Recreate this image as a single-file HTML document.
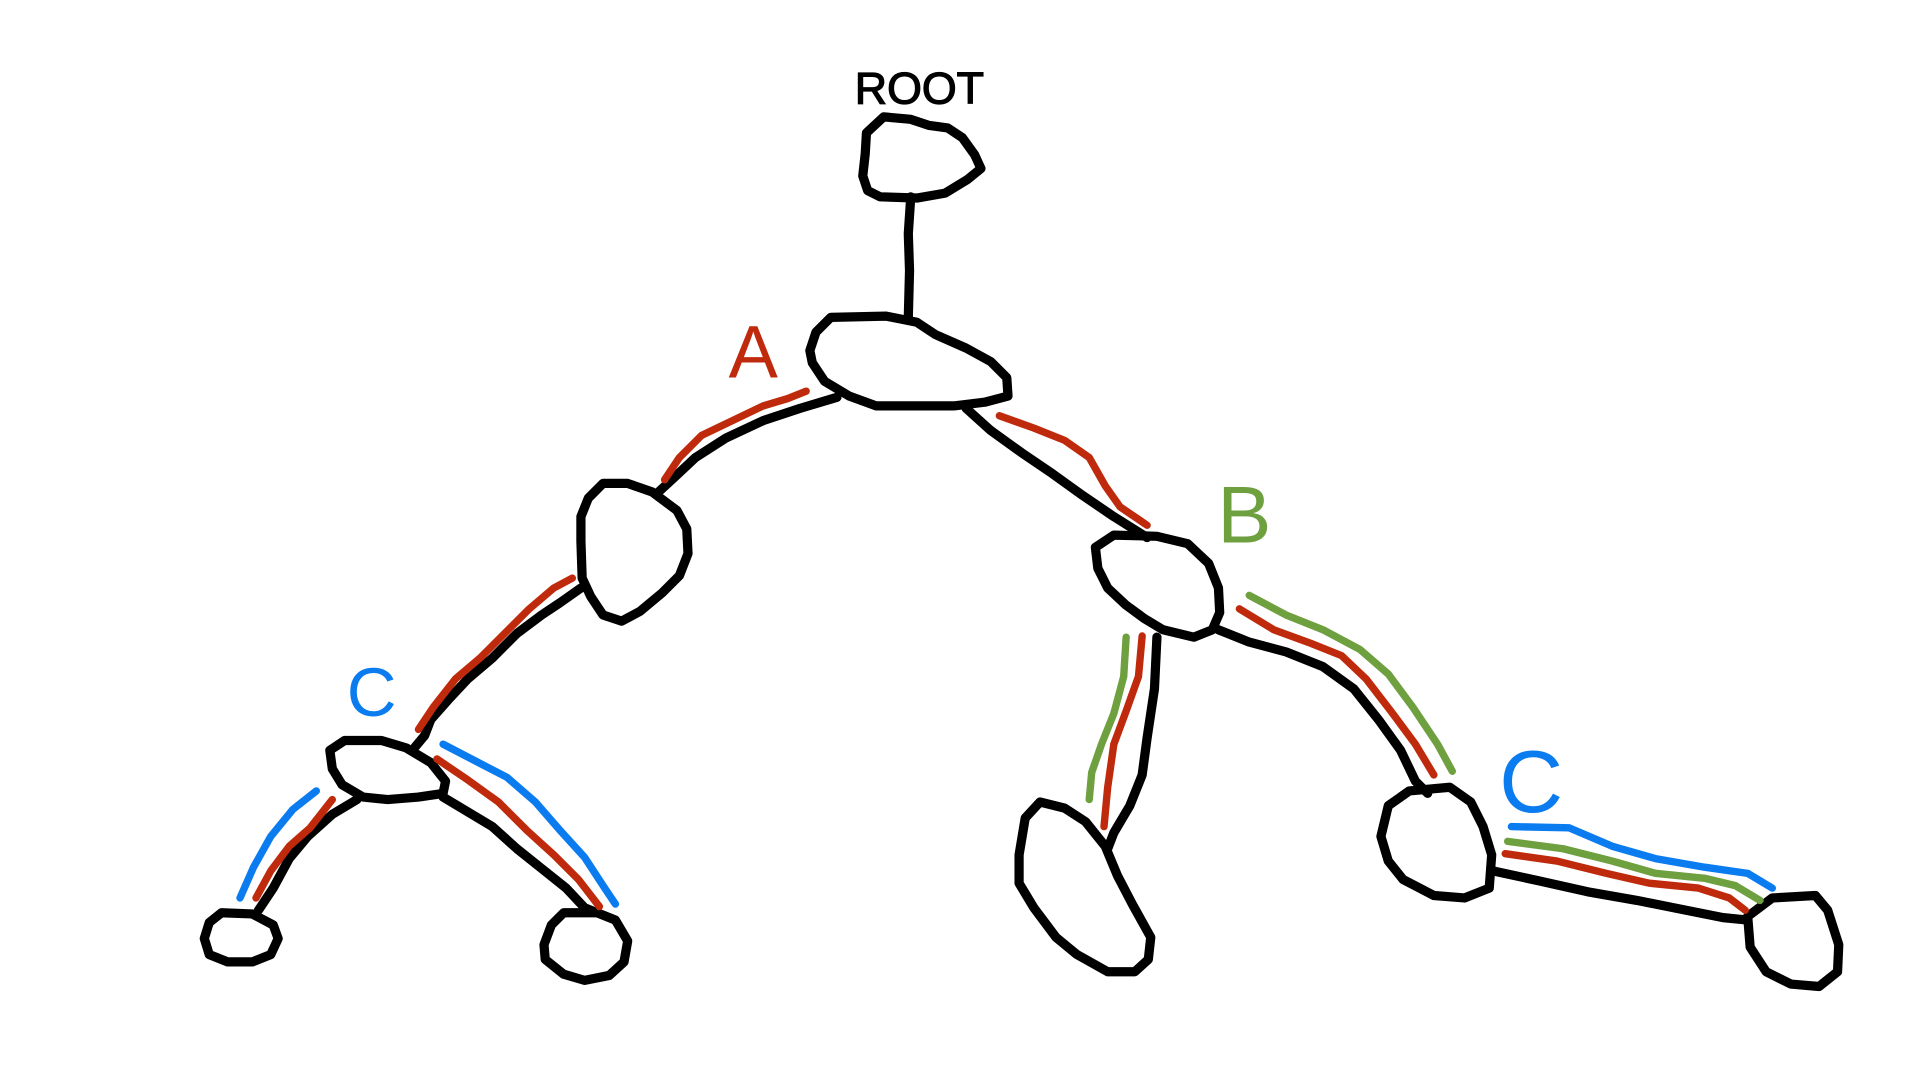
<!DOCTYPE html>
<html><head><meta charset="utf-8"><style>
html,body{margin:0;padding:0;background:#fff;width:1920px;height:1080px;overflow:hidden}
svg{display:block}
text{font-family:"Liberation Sans",sans-serif}
</style></head><body>
<svg width="1920" height="1080" viewBox="0 0 1560 878" preserveAspectRatio="none">
<g fill="none" stroke="#000" stroke-width="7.5" stroke-linecap="round" stroke-linejoin="round">
<path d="M718,95 L740,97 L755,102 L770,104 L782,112 L792,126 L797,137 L786,146 L768,157 L745,161 L715,160 L705,155 L701,143 L703,125 L704,108 Z"/>
<path d="M740,160 L738,190 L739,220 L738,258"/>
<path d="M675,258 L720,257 L745,262 L760,272 L785,283 L805,294 L818,307 L819,322 L800,327 L775,330 L712,330 L690,322 L670,310 L660,295 L658,285 L663,270 Z"/>
<path d="M680,323 L650,332 L620,342 L590,356 L565,372 L548,388 L535,400"/>
<path d="M490,393 L510,393 L530,400 L550,415 L558,430 L559,450 L552,468 L538,482 L520,497 L505,505 L490,500 L480,485 L473,470 L472,440 L472,420 L478,405 Z"/>
<path d="M785,332 L805,350 L830,368 L855,385 L880,403 L905,420 L932,437"/>
<path d="M905,435 L940,436 L965,442 L982,458 L990,478 L991,498 L985,512 L970,518 L945,512 L930,503 L915,492 L900,478 L892,462 L890,445 Z"/>
<path d="M472,478 L455,490 L440,500 L420,515 L400,535 L380,552 L365,568 L350,585 L345,598 L335,610"/>
<path d="M280,602 L310,602 L330,608 L350,620 L362,635 L360,645 L340,648 L315,650 L295,648 L278,638 L270,625 L268,610 Z"/>
<path d="M290,650 L270,662 L250,680 L235,698 L222,722 L210,740"/>
<path d="M180,742 L205,743 L222,752 L226,763 L220,776 L205,782 L185,782 L170,776 L166,763 L170,750 Z"/>
<path d="M360,648 L380,660 L400,672 L420,690 L440,706 L460,722 L475,738 L485,742"/>
<path d="M458,742 L485,742 L500,748 L510,765 L507,782 L495,793 L475,797 L458,792 L443,780 L442,768 L448,752 Z"/>
<path d="M940,518 L938,560 L932,600 L928,630 L918,655 L905,677 L900,690"/>
<path d="M845,652 L865,657 L882,668 L898,688 L908,712 L920,735 L935,762 L933,780 L922,790 L900,790 L875,776 L858,762 L840,738 L828,718 L828,695 L833,665 Z"/>
<path d="M990,512 L1015,522 L1045,530 L1075,542 L1100,560 L1120,585 L1138,610 L1150,635 L1160,645"/>
<path d="M1145,643 L1178,640 L1195,652 L1205,672 L1212,695 L1210,722 L1190,730 L1165,728 L1140,715 L1128,700 L1122,680 L1128,655 Z"/>
<path d="M1213,708 L1250,716 L1290,725 L1330,732 L1370,740 L1400,746 L1420,748"/>
<path d="M1440,730 L1475,728 L1485,740 L1494,768 L1493,790 L1478,802 L1455,800 L1435,790 L1422,770 L1420,745 Z"/>
</g>
<g fill="none" stroke-width="6" stroke-linecap="round" stroke-linejoin="round">
<path stroke="#c02a0c" d="M540,390 L552,372 L570,354 L595,342 L620,330 L640,324 L655,318"/>
<path stroke="#c02a0c" d="M340,593 L352,575 L370,552 L390,535 L410,515 L430,495 L450,478 L465,470"/>
<path stroke="#c02a0c" d="M208,730 L220,708 L235,688 L252,673 L270,650"/>
<path stroke="#0a7cf0" d="M195,730 L206,705 L220,680 L238,658 L257,643"/>
<path stroke="#c02a0c" d="M355,617 L380,634 L405,652 L428,675 L450,695 L470,715 L487,737"/>
<path stroke="#0a7cf0" d="M360,605 L385,618 L412,632 L435,652 L455,675 L475,697 L490,720 L500,735"/>
<path stroke="#c02a0c" d="M812,338 L840,348 L865,358 L885,372 L898,395 L910,412 L932,427"/>
<path stroke="#c02a0c" d="M928,517 L925,550 L915,578 L905,605 L900,640 L897,672"/>
<path stroke="#6fa040" d="M915,518 L913,550 L905,580 L895,605 L887,628 L885,650"/>
<path stroke="#c02a0c" d="M1007,495 L1035,512 L1065,523 L1090,533 L1110,552 L1130,578 L1150,605 L1165,630"/>
<path stroke="#6fa040" d="M1015,484 L1045,500 L1075,512 L1105,528 L1128,548 L1148,575 L1168,605 L1180,627"/>
<path stroke="#0a7cf0" d="M1228,672 L1275,673 L1310,688 L1345,698 L1385,705 L1420,710 L1440,722"/>
<path stroke="#6fa040" d="M1225,684 L1270,690 L1310,700 L1345,710 L1385,714 L1410,720 L1430,732"/>
<path stroke="#c02a0c" d="M1223,694 L1265,700 L1305,710 L1340,718 L1380,722 L1405,730 L1418,740"/>
</g>
<text x="747" y="84" font-size="36" text-anchor="middle" fill="#000" stroke="#000" stroke-width="1" textLength="105" lengthAdjust="spacingAndGlyphs">ROOT</text>
<text x="612" y="307" font-size="60" text-anchor="middle" fill="#c02a0c">A</text>
<text x="1011" y="441" font-size="66" text-anchor="middle" fill="#6fa040">B</text>
<text x="302" y="582" font-size="56" text-anchor="middle" fill="#0a7cf0">C</text>
<text x="1244" y="660" font-size="72" text-anchor="middle" fill="#0a7cf0">C</text>
</svg>
</body></html>
